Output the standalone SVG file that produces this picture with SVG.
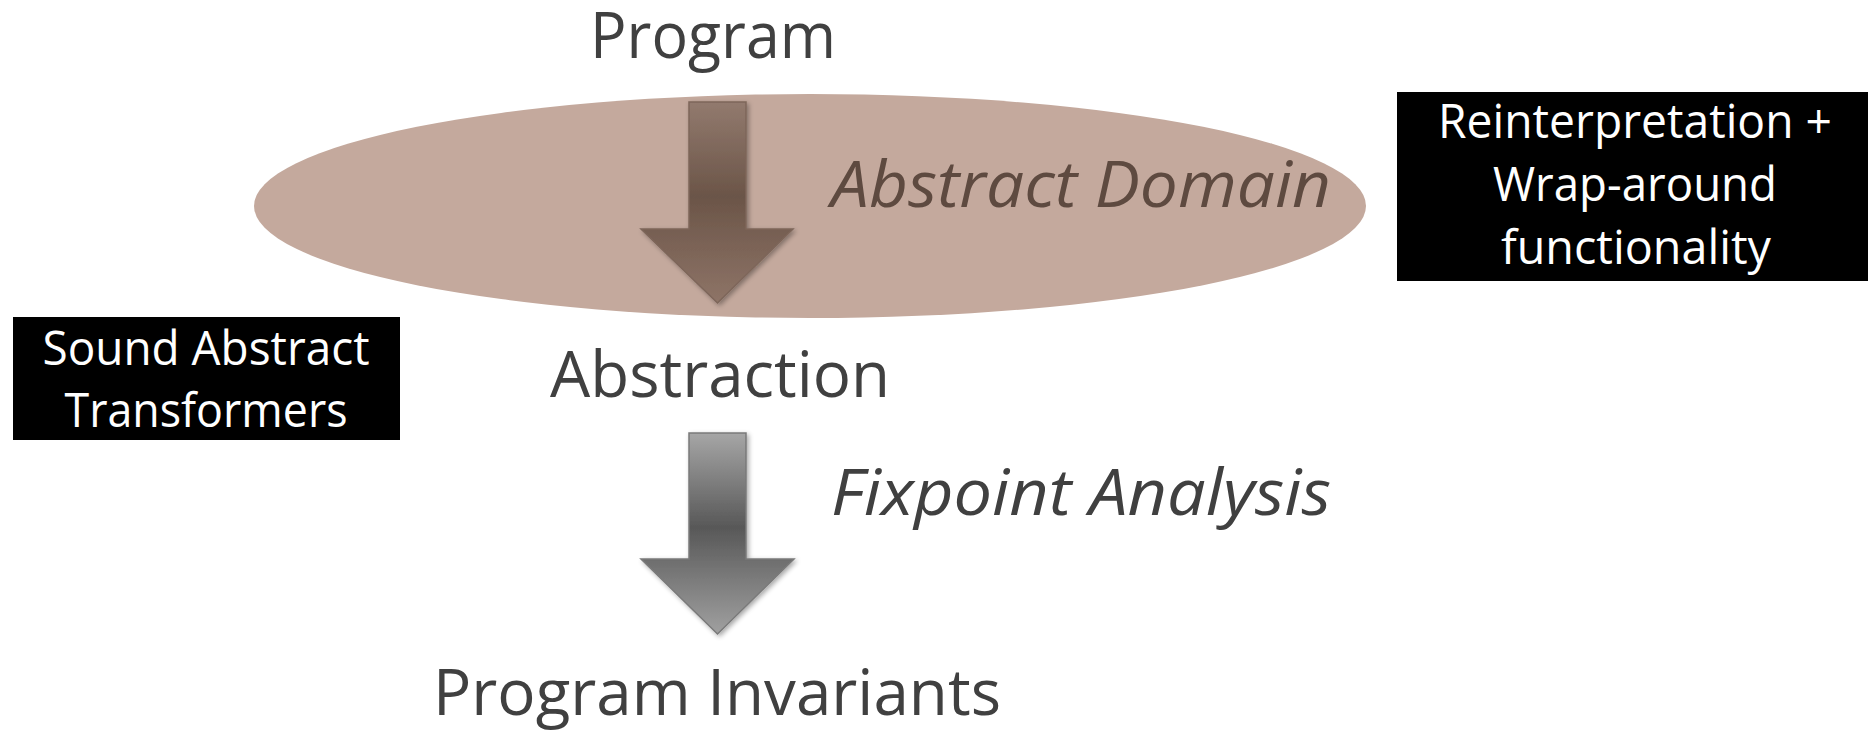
<svg xmlns="http://www.w3.org/2000/svg" width="1868" height="730" viewBox="0 0 1868 730">
  <style>
    .lbl { font-family: "Open Sans", "Liberation Sans", sans-serif; font-size: 64px; fill: #404040; }
    .it { font-style: italic; }
    .dom { fill: #5E4A40; }
    .boxtxt { font-family: "Open Sans", "Liberation Sans", sans-serif; font-size: 47px; fill: #FFFFFF; text-anchor: middle; }
    .box { fill: #000000; }
  </style>
  <defs>
    <linearGradient id="gBrown" x1="0" y1="0" x2="0" y2="1">
      <stop offset="0" stop-color="#927A6E"/>
      <stop offset="0.47" stop-color="#6B5548"/>
      <stop offset="1" stop-color="#8E7467"/>
    </linearGradient>
    <linearGradient id="gGrey" x1="0" y1="0" x2="0" y2="1">
      <stop offset="0" stop-color="#A6A6A6"/>
      <stop offset="0.47" stop-color="#585858"/>
      <stop offset="1" stop-color="#A0A0A0"/>
    </linearGradient>
    <filter id="shadow" x="-20%" y="-10%" width="140%" height="130%">
      <feGaussianBlur in="SourceAlpha" stdDeviation="2.5"/>
      <feOffset dx="2" dy="2" result="b"/>
      <feComponentTransfer><feFuncA type="linear" slope="0.35"/></feComponentTransfer>
      <feMerge><feMergeNode/><feMergeNode in="SourceGraphic"/></feMerge>
    </filter>
  </defs>

  <rect width="1868" height="730" fill="#FFFFFF"/>

  <g id="abstract-domain">
    <ellipse cx="810" cy="206" rx="556" ry="112" fill="#C4A99D"/>
    <text class="lbl it dom" x="831" y="207" textLength="500" lengthAdjust="spacingAndGlyphs">Abstract Domain</text>
  </g>

  <g id="program">
    <text class="lbl" x="590" y="58" textLength="246" lengthAdjust="spacingAndGlyphs">Program</text>
  </g>

  <g id="abstraction">
    <text class="lbl" x="550" y="397" textLength="340" lengthAdjust="spacingAndGlyphs">Abstraction</text>
  </g>

  <g id="program-invariants">
    <text class="lbl" x="433" y="715" textLength="568" lengthAdjust="spacingAndGlyphs">Program Invariants</text>
  </g>

  <g id="fixpoint-analysis">
    <text class="lbl it" x="831" y="515" textLength="500" lengthAdjust="spacingAndGlyphs">Fixpoint Analysis</text>
  </g>

  <g id="sound-abstract-transformers">
    <rect class="box" x="13" y="317" width="387" height="123"/>
    <text class="boxtxt" x="206" y="365" textLength="327" lengthAdjust="spacingAndGlyphs">Sound Abstract</text>
    <text class="boxtxt" x="206" y="427" textLength="283" lengthAdjust="spacingAndGlyphs">Transformers</text>
  </g>

  <g id="reinterpretation">
    <rect class="box" x="1397" y="92" width="471" height="189"/>
    <text class="boxtxt" x="1635" y="138" textLength="394" lengthAdjust="spacingAndGlyphs">Reinterpretation +</text>
    <text class="boxtxt" x="1635" y="201" textLength="284" lengthAdjust="spacingAndGlyphs">Wrap-around</text>
    <text class="boxtxt" x="1636" y="264" textLength="270" lengthAdjust="spacingAndGlyphs">functionality</text>
  </g>

  <g id="connectors">
    <path d="M689 102 H746 V229 H793 L717.5 303 L641 229 H689 Z" fill="url(#gBrown)" stroke="#7D665A" stroke-width="1.5" filter="url(#shadow)"/>
    <path d="M689 433 H746 V559 H794 L717.5 634 L641 559 H689 Z" fill="url(#gGrey)" stroke="#7A7A7A" stroke-width="1.5" filter="url(#shadow)"/>
  </g>
</svg>
